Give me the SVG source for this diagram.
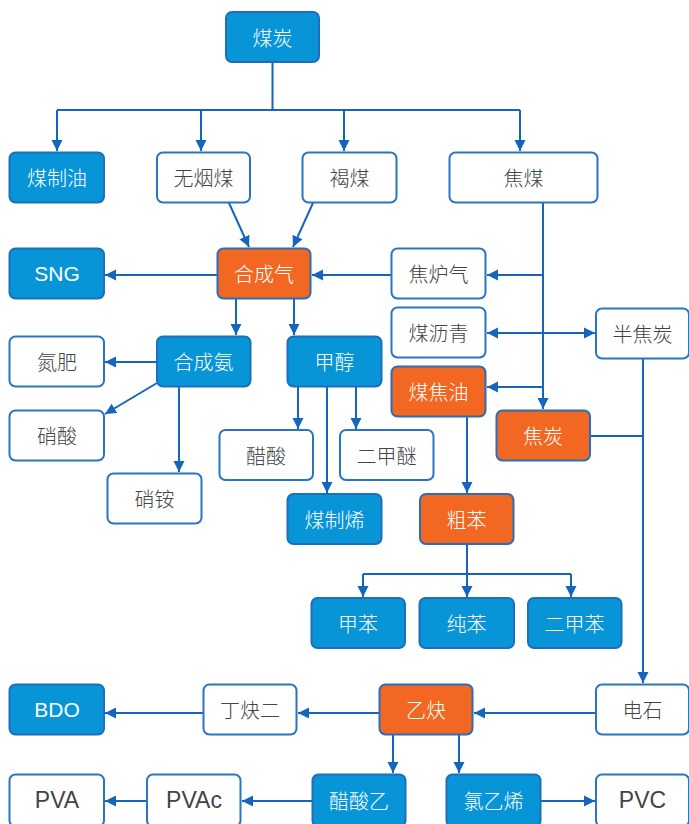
<svg xmlns="http://www.w3.org/2000/svg" width="689" height="824" viewBox="0 0 689 824">
<defs>
<marker id="ah" viewBox="0 0 10 10" refX="10" refY="5" markerWidth="11" markerHeight="12" markerUnits="userSpaceOnUse" orient="auto-start-reverse">
<path d="M0,0 L10,5 L0,10 z" fill="#1565bd"/>
</marker>
<style>
.b rect{fill:#0795d8;stroke:#1d6fbe;stroke-width:2}
.o rect{fill:#f26822;stroke:#2a6db8;stroke-width:2}
.w rect{fill:#fff;stroke:#2a74c4;stroke-width:2}
text{font-family:"Noto Sans CJK SC","Noto Sans",sans-serif;font-size:20px;font-weight:300;text-anchor:middle;dominant-baseline:central}
.b text,.o text{fill:#fff}
.w text{fill:#444}
.lat{font-family:"Liberation Sans",sans-serif;font-size:21px}
.c path{fill:none;stroke:#1565bd;stroke-width:2}
</style>
</defs>
<rect width="689" height="824" fill="#fff"/>
<g class="c">
<path d="M272.5,62 V110 M57,110 H520"/>
<path d="M57,110 V151" marker-end="url(#ah)"/>
<path d="M201,110 V151" marker-end="url(#ah)"/>
<path d="M344,110 V151" marker-end="url(#ah)"/>
<path d="M520,110 V151" marker-end="url(#ah)"/>
<path d="M229,203 L249,247" marker-end="url(#ah)"/>
<path d="M313,203 L293,247" marker-end="url(#ah)"/>
<path d="M391,275 H312" marker-end="url(#ah)"/>
<path d="M217,275 H105" marker-end="url(#ah)"/>
<path d="M543,203 V409" marker-end="url(#ah)"/>
<path d="M543,275 H487" marker-end="url(#ah)"/>
<path d="M543,387 H487" marker-end="url(#ah)"/>
<path d="M487,333 H595" marker-start="url(#ah)" marker-end="url(#ah)"/>
<path d="M643,358 V683" marker-end="url(#ah)"/>
<path d="M590,436 H643"/>
<path d="M236,299 V335" marker-end="url(#ah)"/>
<path d="M294,299 V335" marker-end="url(#ah)"/>
<path d="M157,362 H105" marker-end="url(#ah)"/>
<path d="M157,383 L105,414" marker-end="url(#ah)"/>
<path d="M179,387 V472" marker-end="url(#ah)"/>
<path d="M298,387 V429" marker-end="url(#ah)"/>
<path d="M327,387 V493" marker-end="url(#ah)"/>
<path d="M356,387 V429" marker-end="url(#ah)"/>
<path d="M467,417 V493" marker-end="url(#ah)"/>
<path d="M467,544 V574 M363,574 H571"/>
<path d="M363,574 V597" marker-end="url(#ah)"/>
<path d="M467,574 V597" marker-end="url(#ah)"/>
<path d="M571,574 V597" marker-end="url(#ah)"/>
<path d="M596,713 H474" marker-end="url(#ah)"/>
<path d="M379,713 H298" marker-end="url(#ah)"/>
<path d="M203,713 H105" marker-end="url(#ah)"/>
<path d="M393,734 V773" marker-end="url(#ah)"/>
<path d="M459,734 V773" marker-end="url(#ah)"/>
<path d="M541,801 H595" marker-end="url(#ah)"/>
<path d="M312,801 H242" marker-end="url(#ah)"/>
<path d="M147,801 H105" marker-end="url(#ah)"/>
</g>
<g id="n-meitan" class="b"><rect x="226" y="12" width="93" height="50" rx="6"/><text x="272.5" y="37">煤炭</text></g>
<g id="n-meizhiyou" class="b"><rect x="9.5" y="152.5" width="94.5" height="50" rx="6"/><text x="57" y="177.5">煤制油</text></g>
<g id="n-wuyanmei" class="w"><rect x="157" y="152.5" width="93" height="50" rx="6"/><text x="203.5" y="177.5">无烟煤</text></g>
<g id="n-hemei" class="w"><rect x="302.5" y="152.5" width="94" height="50" rx="6"/><text x="349.5" y="177.5">褐煤</text></g>
<g id="n-jiaomei" class="w"><rect x="449.5" y="152.5" width="148" height="50" rx="6"/><text x="523.5" y="177.5">焦煤</text></g>
<g id="n-sng" class="b"><rect x="9.5" y="248.5" width="94.5" height="50" rx="6"/><text class="lat" x="57" y="273.5">SNG</text></g>
<g id="n-hechengqi" class="o"><rect x="217.5" y="248.5" width="93" height="50" rx="6"/><text x="264" y="273.5">合成气</text></g>
<g id="n-jiaoluqi" class="w"><rect x="391.5" y="248.5" width="94" height="50" rx="6"/><text x="438.5" y="273.5">焦炉气</text></g>
<g id="n-meiliqing" class="w"><rect x="391.5" y="307.5" width="94" height="50" rx="6"/><text x="438.5" y="332.5">煤沥青</text></g>
<g id="n-banjiaotan" class="w"><rect x="596" y="308.5" width="93" height="50" rx="6"/><text x="642.5" y="333.5">半焦炭</text></g>
<g id="n-hechengan" class="b"><rect x="157" y="336.5" width="93.5" height="50" rx="6"/><text x="203.5" y="361.5">合成氨</text></g>
<g id="n-jiachun" class="b"><rect x="287.5" y="336.5" width="94" height="50" rx="6"/><text x="334.5" y="361.5">甲醇</text></g>
<g id="n-danfei" class="w"><rect x="9.5" y="336.5" width="94.5" height="50" rx="6"/><text x="57" y="361.5">氮肥</text></g>
<g id="n-meijiaoyou" class="o"><rect x="391.5" y="366.5" width="94" height="50" rx="6"/><text x="438.5" y="391.5">煤焦油</text></g>
<g id="n-jiaotan" class="o"><rect x="496.5" y="410.5" width="93.5" height="50" rx="6"/><text x="543" y="435.5">焦炭</text></g>
<g id="n-xiaosuan" class="w"><rect x="9.5" y="410.5" width="94.5" height="50" rx="6"/><text x="57" y="435.5">硝酸</text></g>
<g id="n-cusuan" class="w"><rect x="219.5" y="430" width="93.5" height="50" rx="6"/><text x="266" y="455">醋酸</text></g>
<g id="n-erjiami" class="w"><rect x="340" y="430" width="93.5" height="50" rx="6"/><text x="386.5" y="455">二甲醚</text></g>
<g id="n-xiaoan" class="w"><rect x="107.5" y="473.5" width="94" height="50" rx="6"/><text x="154.5" y="498.5">硝铵</text></g>
<g id="n-meizhixi" class="b"><rect x="287.5" y="494" width="94" height="50" rx="6"/><text x="334.5" y="519">煤制烯</text></g>
<g id="n-cuben" class="o"><rect x="420" y="494" width="93.5" height="50" rx="6"/><text x="466.5" y="519">粗苯</text></g>
<g id="n-jiaben" class="b"><rect x="311.5" y="598" width="93.5" height="50" rx="6"/><text x="358" y="623">甲苯</text></g>
<g id="n-chunben" class="b"><rect x="419.5" y="598" width="94.5" height="50" rx="6"/><text x="466.5" y="623">纯苯</text></g>
<g id="n-erjiaben" class="b"><rect x="528" y="598" width="93.5" height="50" rx="6"/><text x="574.5" y="623">二甲苯</text></g>
<g id="n-bdo" class="b"><rect x="9.5" y="684.5" width="94.5" height="50" rx="6"/><text class="lat" x="57" y="709.5">BDO</text></g>
<g id="n-dingqueer" class="w"><rect x="203.5" y="684.5" width="93" height="50" rx="6"/><text x="250" y="709.5">丁炔二</text></g>
<g id="n-yique" class="o"><rect x="379.5" y="684.5" width="93" height="50" rx="6"/><text x="426" y="709.5">乙炔</text></g>
<g id="n-dianshi" class="w"><rect x="596" y="684.5" width="93" height="50" rx="6"/><text x="642.5" y="709.5">电石</text></g>
<g id="n-pva" class="w"><rect x="9.5" y="774.5" width="94.5" height="52" rx="6"/><text class="lat" x="57" y="800" style="font-size:23px">PVA</text></g>
<g id="n-pvac" class="w"><rect x="147" y="774.5" width="93.5" height="52" rx="6"/><text class="lat" x="194" y="800" style="font-size:23px">PVAc</text></g>
<g id="n-cusuanyi" class="b"><rect x="312.5" y="774.5" width="93" height="52" rx="6"/><text x="359" y="800">醋酸乙</text></g>
<g id="n-lvyixi" class="b"><rect x="446.5" y="774.5" width="94" height="52" rx="6"/><text x="493.5" y="800">氯乙烯</text></g>
<g id="n-pvc" class="w"><rect x="596" y="774.5" width="93" height="52" rx="6"/><text class="lat" x="642.5" y="800" style="font-size:23px">PVC</text></g>
</svg>
